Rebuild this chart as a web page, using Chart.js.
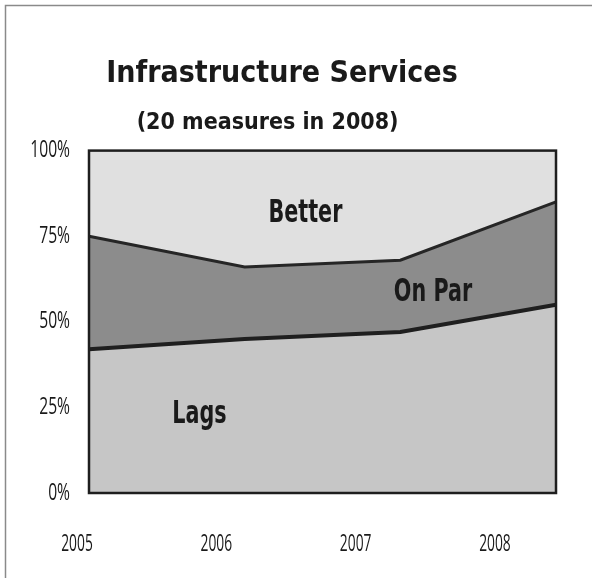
<!DOCTYPE html>
<html>
<head>
<meta charset="utf-8">
<script src="https://cdn.jsdelivr.net/npm/chart.js@4.4.0/dist/chart.umd.min.js"></script>
<style>
  html, body { margin: 0; padding: 0; background: #fff; }
  #wrap { width: 592px; height: 578px; }
</style>
</head>
<body>
<div id="wrap"><canvas id="grafico" width="592" height="578"></canvas></div>
<script>
// datos (porcentaje de medidas)
const years = ['2005', '2006', '2007', '2008'];
const lags = [42, 45, 47, 55];
const onPar = [33, 21, 21, 30];
const better = [25, 34, 32, 15];
const yTicks = [0, 25, 50, 75, 100];

const narrow = "'Open Sans', 'DejaVu Sans Condensed', sans-serif";
const heavy = "'DejaVu Sans Condensed', 'Liberation Sans Narrow', sans-serif";

// etiquetas dentro de las areas (indice x, valor y)
const areaLabels = [
  { text: 'Better', x: 1.39, y: 81.5 },
  { text: 'On Par', x: 2.21, y: 58.5 },
  { text: 'Lags', x: 0.71, y: 23 }
];

// texto comprimido horizontalmente (la fuente original es estrecha)
function textoEstrecho(ctx, txt, x, y, escala) {
  ctx.save();
  ctx.translate(x, y);
  ctx.scale(escala, 1);
  ctx.fillText(txt, 0, 0);
  ctx.restore();
}

const marco = {
  id: 'marco',
  beforeDraw(chart) {
    const ctx = chart.ctx;
    ctx.save();
    ctx.fillStyle = '#fff';
    ctx.fillRect(0, 0, chart.width, chart.height);
    ctx.strokeStyle = '#8a8a8a';
    ctx.lineWidth = 1.5;
    ctx.beginPath();
    ctx.moveTo(5.5, chart.height);
    ctx.lineTo(5.5, 5.5);
    ctx.lineTo(chart.width, 5.5);
    ctx.stroke();
    ctx.restore();
  },
  afterDraw(chart) {
    const { ctx, chartArea: a, scales } = chart;
    ctx.save();
    // borde del area de grafico
    ctx.strokeStyle = '#1e1e1e';
    ctx.lineWidth = 2.5;
    ctx.strokeRect(a.left, a.top, a.right - a.left, a.bottom - a.top);

    // etiquetas de las areas
    ctx.font = "bold 32px " + heavy;
    ctx.fillStyle = '#1a1a1a';
    ctx.textAlign = 'center';
    ctx.textBaseline = 'middle';
    areaLabels.forEach(l => {
      textoEstrecho(ctx, l.text, scales.x.getPixelForValue(l.x), scales.y.getPixelForValue(l.y), 0.72);
    });

    // etiquetas del eje x (desplazadas como en el original)
    ctx.font = "23px " + narrow;
    const paso = (a.right - a.left) / (years.length - 1) * 0.895;
    years.forEach((y, i) => {
      textoEstrecho(ctx, y, a.left - 12 + i * paso, a.bottom + 51, 0.6);
    });

    // etiquetas del eje y
    ctx.textAlign = 'right';
    scales.y.ticks.forEach(t => {
      textoEstrecho(ctx, t.value + '%', a.left - 19, scales.y.getPixelForValue(t.value), 0.68);
    });
    ctx.restore();
  }
};

new Chart(document.getElementById('grafico'), {
  type: 'line',
  data: {
    labels: years,
    datasets: [
      { label: 'Lags', data: lags, fill: 'origin', backgroundColor: '#c6c6c6',
        borderColor: '#1f1f1f', borderWidth: 4, pointRadius: 0, tension: 0 },
      { label: 'On Par', data: onPar, fill: '-1', backgroundColor: '#8c8c8c',
        borderColor: '#262626', borderWidth: 3, pointRadius: 0, tension: 0 },
      { label: 'Better', data: better, fill: '-1', backgroundColor: '#e0e0e0',
        borderWidth: 0, pointRadius: 0, tension: 0 }
    ]
  },
  options: {
    responsive: false,
    animation: false,
    layout: { padding: { left: 8, right: 36, top: 10, bottom: 85 } },
    plugins: {
      legend: { display: false },
      tooltip: { enabled: false },
      title: {
        display: true,
        text: 'Infrastructure Services',
        color: '#1a1a1a',
        font: { family: heavy, size: 30, weight: 'bold' },
        padding: { top: 46, bottom: 0 }
      },
      subtitle: {
        display: true,
        text: '(20 measures in 2008)    ',
        color: '#1a1a1a',
        font: { family: heavy, size: 23, weight: 'bold' },
        padding: { top: 17, bottom: 14 }
      }
    },
    scales: {
      x: { display: false },
      y: {
        stacked: true,
        min: 0,
        max: 100,
        grid: { display: false },
        border: { display: false },
        afterBuildTicks: s => { s.ticks = yTicks.map(v => ({ value: v })); },
        afterFit: s => { s.width = 81; },
        ticks: { display: false }
      }
    }
  },
  plugins: [marco]
});
</script>
</body>
</html>
